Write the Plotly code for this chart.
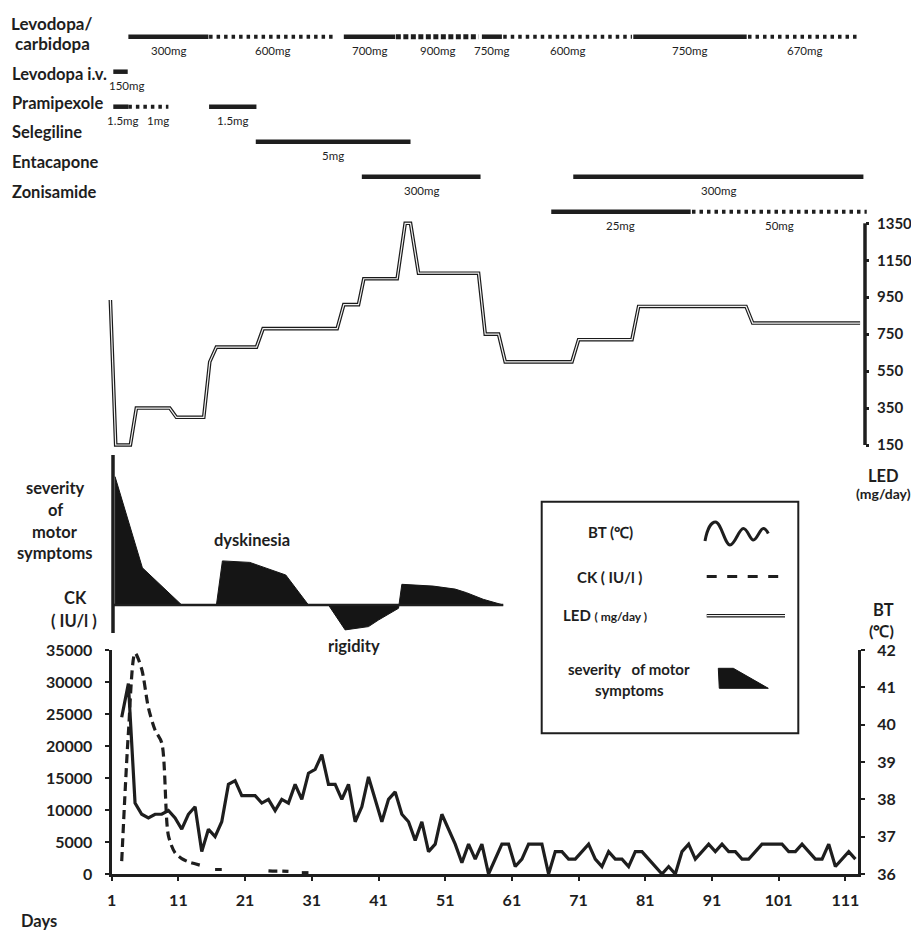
import plotly.graph_objects as go

# ---------------- data ----------------
day_ticks = [1, 11, 21, 31, 41, 51, 61, 71, 81, 91, 101, 111]
ck_ticks = [0, 5000, 10000, 15000, 20000, 25000, 30000, 35000]
bt_ticks = [36, 37, 38, 39, 40, 41, 42]
led_ticks = [150, 350, 550, 750, 950, 1150, 1350]

bt_days = list(range(2, 113))
bt_vals = [40.2, 41.1, 37.9, 37.6, 37.5, 37.6, 37.6, 37.7, 37.5, 37.2,
           37.6, 37.8, 36.6, 37.2, 37.0, 37.4, 38.4, 38.5, 38.1, 38.1,
           38.1, 37.9, 38.0, 37.7, 38.0, 37.9, 38.4, 38.0, 38.7, 38.8,
           39.2, 38.4, 38.4, 38.0, 38.4, 37.4, 37.8, 38.6, 38.0, 37.4,
           38.0, 38.2, 37.6, 37.4, 36.9, 37.4, 36.6, 36.8, 37.6, 37.2,
           36.8, 36.3, 36.8, 36.4, 36.8, 36.0, 36.4, 36.8, 36.8, 36.2,
           36.4, 36.8, 36.8, 36.8, 36.0, 36.6, 36.6, 36.4, 36.4, 36.6,
           36.8, 36.4, 36.2, 36.6, 36.4, 36.4, 36.2, 36.6, 36.6, 36.4,
           36.2, 36.0, 36.2, 36.0, 36.6, 36.8, 36.4, 36.6, 36.8, 36.6,
           36.8, 36.6, 36.6, 36.4, 36.4, 36.6, 36.8, 36.8, 36.8, 36.8,
           36.6, 36.6, 36.8, 36.6, 36.4, 36.4, 36.8, 36.2, 36.4, 36.6,
           36.4]

ck_days = list(range(2, 31))
ck_vals = [2000, 22000, 34500, 32000, 26000, 22500, 20500, 6000, 3300, 2400,
           1900, 1600, 1300, None, 700, 700, None, None, None, None,
           None, None, 500, 450, 450, 400, None, 200, 200]

led_days = [0.3, 1.1, 3.3, 4.2, 9.2, 10.2, 14.3, 15.2, 16.2, 22.2,
            23.2, 34.3, 35.3, 37.5, 38.3, 43.3, 44.5, 45.3, 46.5, 55.5,
            56.5, 58.5, 59.5, 69.5, 70.5, 78.5, 79.5, 95.6, 96.6, 112.7]
led_vals = [935, 150, 150, 350, 350, 300, 300, 600, 680, 680,
            780, 780, 910, 910, 1050, 1050, 1350, 1350, 1080, 1080,
            750, 750, 600, 600, 720, 720, 900, 900, 810, 810]

sev_days = [1.0, 2.5, 5.1, 11, 16.2, 17.1, 21.2, 26.6, 30, 33,
            35.5, 39, 40.5, 43.5, 44, 48.7, 52, 53.7, 56.2, 59.2]
sev_vals = [4.28, 3.17, 1.24, 0, 0, 1.47, 1.42, 1.0, 0, 0,
            -0.83, -0.72, -0.5, -0.11, 0.69, 0.63, 0.53, 0.41, 0.19, 0]

med_names = ["Levodopa i.v.", "Pramipexole", "Selegiline", "Entacapone", "Zonisamide"]
med_row = [0, 0, 0, 0, 0, 0, 0, 0, 1, 2, 2, 2, 3, 4, 4, 5, 5]
med_start = [3.0, 15.1, 35.3, 43.1, 56.0, 59.2, 78.7, 95.9, 0.74, 0.74, 3.0, 15.1,
             22.1, 38.0, 69.7, 66.4, 87.5]
med_end = [15.0, 34.2, 43.0, 55.5, 59.0, 78.5, 95.7, 112.7, 2.9, 3.0, 9.0, 22.2,
           45.3, 55.8, 113.2, 87.3, 113.7]
med_style = ["solid", "dot", "solid", "dot2", "solid", "dot", "solid", "dot",
             "solid", "solid", "dot", "solid", "solid", "solid", "solid", "solid", "dot"]
med_dose = ["300mg", "600mg", "700mg", "900mg", "750mg", "600mg", "750mg", "670mg",
            "150mg", "1.5mg", "1mg", "1.5mg", "5mg", "300mg", "300mg", "25mg", "50mg"]

# ---------------- layout helpers (pixels of the target picture) ----------------
W, H = 919, 934
OFF = 8                      # page body margin in the browser
X0, S = 111.7, 6.67          # px of day-tick "1", px per day
label_shift = [0, 0, 0, 0, 0, 0, 0, 0, 0.9, 0.3, 1.5, 0, 0, 0, 0, 0, 0]  # days


def fx(px):
    return (px - OFF) / W


def fy(py):
    return 1 - (py - OFF) / H


def day_at(px):
    return (px - X0) / S + 0.5


def led_at(py):
    return 150 + (445 - py) / 0.18475


def sev_at(py):
    return (605 - py) / 30.0


def row_at(py):
    return (py - 36.7) / 35.0


FONT = "Lato"
INK = "#1e1e1e"

fig = go.Figure()

styles = {"solid": dict(width=4.5, dash="solid"),
          "dot": dict(width=4, dash="3.5px,4px"),
          "dot2": dict(width=5, dash="5px,2.5px")}
for r, a, b, st, dose, sh in zip(med_row, med_start, med_end, med_style, med_dose,
                                 label_shift):
    fig.add_trace(go.Scatter(x=[a, b], y=[r, r], mode="lines", xaxis="x2", yaxis="y5",
                             line=dict(color=INK, **styles[st]), showlegend=False,
                             hoverinfo="skip"))
    fig.add_annotation(x=(a + b) / 2 + sh, y=r + 0.38, xref="x2", yref="y5", text=dose,
                       showarrow=False, font=dict(family=FONT, size=11.5, color=INK))

fig.add_trace(go.Scatter(x=led_days, y=led_vals, mode="lines", xaxis="x2", yaxis="y3",
                         line=dict(color="#1a1a1a", width=3.6), showlegend=False))
fig.add_trace(go.Scatter(x=led_days, y=led_vals, mode="lines", xaxis="x2", yaxis="y3",
                         line=dict(color="#f2f2f2", width=1.2), showlegend=False))

fig.add_trace(go.Scatter(x=sev_days, y=sev_vals, mode="lines", xaxis="x2", yaxis="y4",
                         fill="tozeroy", fillcolor="#151515",
                         line=dict(color="#151515", width=1), showlegend=False))

fig.add_trace(go.Scatter(x=ck_days, y=ck_vals, mode="lines", xaxis="x", yaxis="y",
                         line=dict(color=INK, width=3.2, dash="9px,5px", shape="spline",
                                   smoothing=0.8),
                         connectgaps=False, showlegend=False))
fig.add_trace(go.Scatter(x=bt_days, y=bt_vals, mode="lines", xaxis="x", yaxis="y2",
                         line=dict(color=INK, width=3.2), showlegend=False))

tickfont = dict(family=FONT, size=16, color=INK, weight="bold")
axis_common = dict(showgrid=False, zeroline=False, showline=True, linecolor=INK,
                   linewidth=3, ticks="outside", tickcolor=INK, tickwidth=2, ticklen=4,
                   tickfont=tickfont, automargin=False)

fig.update_layout(
    width=W, height=H, autosize=False,
    margin=dict(l=0, r=0, t=0, b=0, pad=0, autoexpand=False),
    paper_bgcolor="white", plot_bgcolor="rgba(0,0,0,0)",
    xaxis=dict(domain=[fx(111.5), fx(858)], range=[day_at(111.5), day_at(858)],
               anchor="y", tickvals=[k - 0.5 for k in day_ticks],
               ticktext=[str(k) for k in day_ticks], ticklabelstandoff=6, **axis_common),
    yaxis=dict(domain=[fy(874), fy(650)], range=[0, 35000], anchor="x",
               tickvals=ck_ticks, tickformat="d", ticklabelstandoff=9, **axis_common),
    yaxis2=dict(domain=[fy(874), fy(650)], range=[36, 42], anchor="x", overlaying="y",
                side="right", tickvals=bt_ticks, ticklabelstandoff=9, **axis_common),
    xaxis2=dict(domain=[fx(100), fx(872)], range=[day_at(100), day_at(872)],
                anchor="y5", visible=False, automargin=False),
    yaxis3=dict(domain=[fy(455), fy(215)], range=[led_at(455), led_at(215)],
                anchor="free", position=fx(865), side="right", showgrid=False,
                zeroline=False, showline=False, ticks="outside", tickcolor=INK,
                tickwidth=2.5, ticklen=3, tickvals=led_ticks,
                tickfont=dict(family=FONT, size=15, color=INK, weight="bold"),
                ticklabelstandoff=5, automargin=False),
    yaxis4=dict(domain=[fy(640), fy(450)], range=[sev_at(640), sev_at(450)],
                anchor="x2", visible=False, automargin=False),
    yaxis5=dict(domain=[fy(240), fy(OFF)], range=[row_at(240), row_at(OFF)],
                anchor="x2", visible=False, automargin=False),
)

shapes = []
shapes.append(dict(type="line", xref="paper", yref="y3", x0=fx(865), x1=fx(865),
                   y0=led_ticks[0], y1=led_ticks[-1], line=dict(color=INK, width=3.5)))
shapes.append(dict(type="line", xref="paper", yref="y4", x0=fx(113), x1=fx(113),
                   y0=sev_at(633), y1=sev_at(455), line=dict(color=INK, width=3.5)))
shapes.append(dict(type="line", xref="x2", yref="y4", x0=day_at(113), x1=sev_days[-1],
                   y0=0, y1=0, line=dict(color=INK, width=2.5)))
shapes.append(dict(type="rect", xref="paper", yref="paper", x0=fx(541.7), x1=fx(798.3),
                   y0=fy(733.3), y1=fy(501.7), line=dict(color=INK, width=2)))


def pth(cmds):
    out = []
    for c in cmds:
        if isinstance(c, str):
            out.append(c)
        else:
            out.append(f"{fx(c[0]):.5f},{fy(c[1]):.5f}")
    return " ".join(out)


wave = ["M", (705, 541), "C", (707, 530), (711, 522), (715.5, 522),
        "C", (721, 522), (725, 545), (730, 545),
        "C", (735, 545), (739, 528.5), (743.3, 528.5),
        "C", (747.5, 528.5), (750, 540), (753.3, 540),
        "C", (757, 540), (760, 528.5), (763.3, 528.5),
        "C", (765.5, 528.5), (767, 531), (768.3, 533.5)]
shapes.append(dict(type="path", xref="paper", yref="paper", path=pth(wave),
                   line=dict(color=INK, width=3)))
shapes.append(dict(type="line", xref="paper", yref="paper", x0=fx(706.7), x1=fx(779),
                   y0=fy(576.5), y1=fy(576.5),
                   line=dict(color=INK, width=3, dash="10px,10.5px")))
shapes.append(dict(type="line", xref="paper", yref="paper", x0=fx(706.7), x1=fx(785),
                   y0=fy(615.7), y1=fy(615.7), line=dict(color="#1a1a1a", width=3.6)))
shapes.append(dict(type="line", xref="paper", yref="paper", x0=fx(706.7), x1=fx(785),
                   y0=fy(615.7), y1=fy(615.7), line=dict(color="#f2f2f2", width=1.2)))
sev_glyph = ["M", (718.3, 668.3), "L", (733.3, 668.3), "L", (768.3, 688.3),
             "L", (719.3, 688.3), "Z"]
shapes.append(dict(type="path", xref="paper", yref="paper", path=pth(sev_glyph),
                   fillcolor="#151515", line=dict(color="#151515", width=1)))
fig.update_layout(shapes=shapes)


def label(text, px, py, size=16.5, bold=True, xanchor="center"):
    fig.add_annotation(x=fx(px), y=fy(py), xref="paper", yref="paper", text=text,
                       showarrow=False, xanchor=xanchor, yanchor="middle",
                       font=dict(family=FONT, size=size, color=INK,
                                 weight="bold" if bold else "normal"))


label("Levodopa/", 9, 23, size=17, xanchor="left")
label("carbidopa", 13, 44, size=17, xanchor="left")
for name, py in zip(med_names, [74, 103, 132, 162, 192]):
    label(name, 10, py, xanchor="left")

for t, py in zip(["severity", "of", "motor", "symptoms"], [488, 510.5, 532, 553]):
    label(t, 55, py)
label("CK", 75, 598)
label("( IU/l )", 74, 621)
label("dyskinesia", 252, 540)
label("rigidity", 354, 646)

label("LED", 883, 476)
label("(mg/day)", 883, 493.5, size=14)
label("BT", 883, 610)
label("(℃)", 881, 630, size=16)
label("Days", 39, 921, size=16.5)

label("BT (℃)", 610, 532, size=15)
label("CK ( IU/l )", 609, 577, size=15)
label("LED <span style='font-size:12px'>( mg/day )</span>", 605, 615, size=15)
label("severity   of motor", 629, 669, size=15)
label("symptoms", 629, 690, size=15)

fig.write_html("out.html")
